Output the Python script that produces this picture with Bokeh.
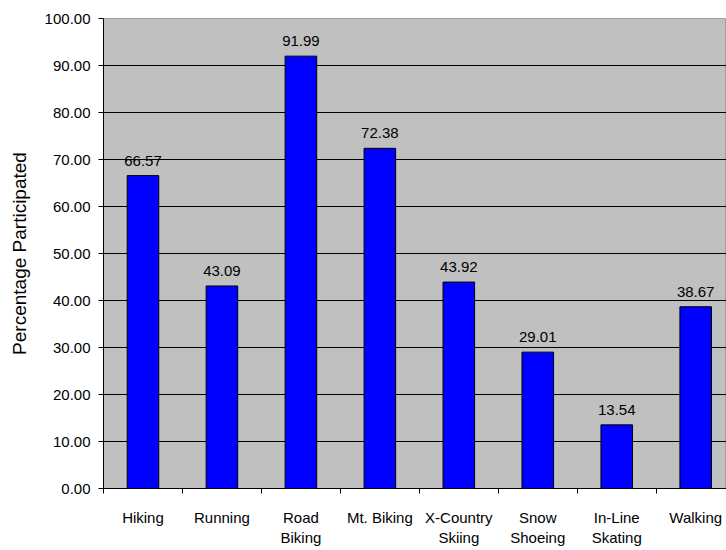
from bokeh.plotting import figure
from bokeh.models import Range1d, FixedTicker, NumeralTickFormatter, ColumnDataSource, LabelSet
from bokeh.core.properties import value
from bokeh.embed import file_html
from bokeh.resources import INLINE

categories = ["Hiking", "Running", "Road\nBiking", "Mt. Biking", "X-Country\nSkiing",
              "Snow\nShoeing", "In-Line\nSkating", "Walking"]
values = [66.57, 43.09, 91.99, 72.38, 43.92, 29.01, 13.54, 38.67]
value_labels = ["66.57", "43.09", "91.99", "72.38", "43.92", "29.01", "13.54", "38.67"]
y_ticks = [0, 10, 20, 30, 40, 50, 60, 70, 80, 90, 100]
y_label = "Percentage Participated"

FONT = "Liberation Sans"
FS = "15px"

centers = [i + 0.5 for i in range(len(categories))]
bounds = [i for i in range(len(categories) + 1)]

src = ColumnDataSource(dict(x=centers, top=values, lab=value_labels))

p = figure(width=726, height=550, x_range=Range1d(0, 7.89), y_range=Range1d(0, 100),
           output_backend="svg", toolbar_location=None,
           min_border_left=103, min_border_right=0, min_border_top=18, min_border_bottom=62)

p.background_fill_color = "#C0C0C0"
p.border_fill_color = "white"
p.outline_line_color = "#A0A0A0"

p.vbar(x="x", top="top", width=0.4, bottom=0, source=src,
       fill_color="#0000FF", line_color="black", line_width=1)

labels = LabelSet(x="x", y="top", text="lab", source=src, text_align="center",
                  text_baseline="bottom", y_offset=10, text_font=value(FONT),
                  text_font_size=value(FS), text_color="black")
p.add_layout(labels)

# x axis
p.xaxis.ticker = FixedTicker(ticks=centers, minor_ticks=bounds)
p.xaxis.major_label_overrides = {c: lab for c, lab in zip(centers, categories)}
p.xaxis.major_tick_out = 0
p.xaxis.major_tick_in = 0
p.xaxis.minor_tick_out = 5
p.xaxis.minor_tick_in = 0
p.xaxis.minor_tick_line_color = "black"
p.xaxis.axis_line_color = "black"
p.xaxis.major_label_standoff = 15
p.xaxis.major_label_text_font = FONT
p.xaxis.major_label_text_font_size = FS
p.xaxis.major_label_text_color = "black"

# y axis
p.yaxis.ticker = FixedTicker(ticks=y_ticks)
p.yaxis.formatter = NumeralTickFormatter(format="0.00")
p.yaxis.major_tick_out = 5
p.yaxis.major_tick_in = 0
p.yaxis.minor_tick_line_color = None
p.yaxis.axis_line_color = "black"
p.yaxis.major_label_standoff = 8
p.yaxis.major_label_text_font = FONT
p.yaxis.major_label_text_font_size = FS
p.yaxis.major_label_text_color = "black"
p.yaxis.axis_label = y_label
p.yaxis.axis_label_text_font = FONT
p.yaxis.axis_label_text_font_size = "19px"
p.yaxis.axis_label_text_font_style = "normal"
p.yaxis.axis_label_text_color = "black"
p.yaxis.axis_label_standoff = 12

p.xgrid.grid_line_color = None
p.ygrid.grid_line_color = "black"
p.ygrid.ticker = FixedTicker(ticks=y_ticks)

open("out.html", "w").write(file_html(p, INLINE))
